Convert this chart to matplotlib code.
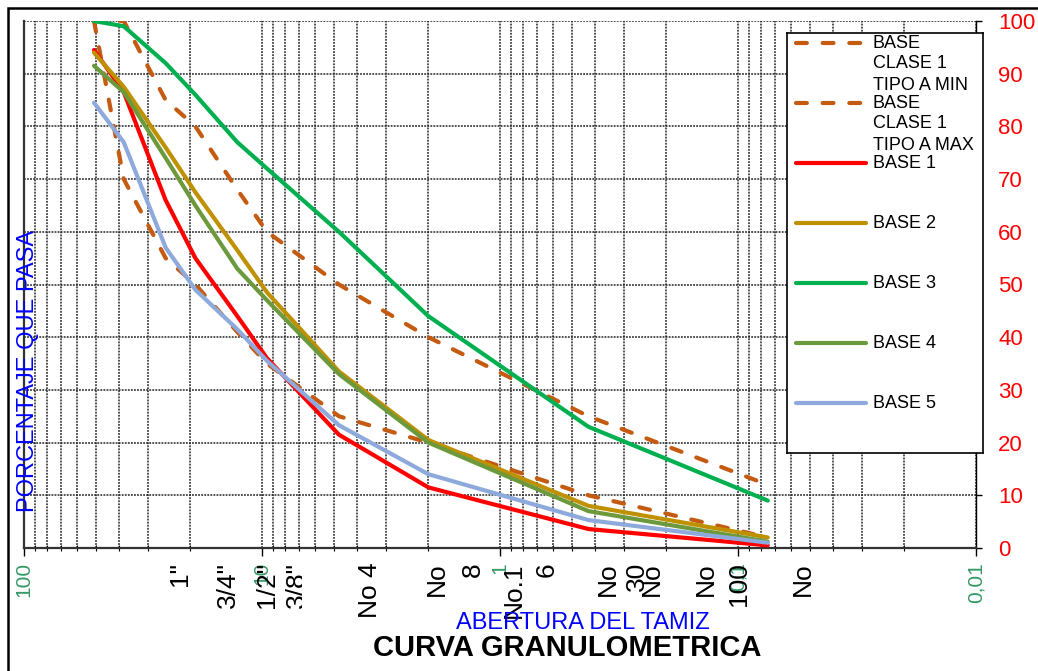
import matplotlib
matplotlib.use('Agg')
import matplotlib.pyplot as plt
import numpy as np
from matplotlib.ticker import LogLocator, NullFormatter
from matplotlib.transforms import Bbox, TransformedBbox
from matplotlib.patches import Rectangle

plt.rcParams['font.family'] = ['Liberation Sans', 'DejaVu Sans']

# ---------------- data ----------------
sieve_names = ['2"', '1 1/2"', '1"', '3/4"', '1/2"', '3/8"', 'No 4', 'No 10', 'No 40', 'No 200']
sieve_mm = [50.8, 38.1, 25.4, 19.05, 12.7, 9.525, 4.75, 2.0, 0.425, 0.075]
spec_min = [100, 70, 55, 50, 41, 35, 25, 20, 10, 2]
spec_max = [100, 100, 85, 80, 68, 60, 50, 40, 25, 12]
base1 = [94.5, 86.5, 66, 55, 44, 36, 21.5, 11.5, 3.6, 0.5]
base2 = [94, 87.5, 76, 67.5, 56.5, 48.5, 33.5, 20.5, 8, 2]
base3 = [100, 99, 92, 86, 77, 72, 60, 44, 23, 9]
base4 = [91.5, 86.5, 74, 65, 53, 47, 33, 20, 7, 1.2]
base5 = [84.5, 77, 57, 49, 41.5, 35.5, 23.3, 14, 5.3, 1.0]

series_labels = ['BASE\nCLASE 1\nTIPO A MIN', 'BASE\nCLASE 1\nTIPO A MAX',
                 'BASE 1', 'BASE 2', 'BASE 3', 'BASE 4', 'BASE 5']
series_values = [spec_min, spec_max, base1, base2, base3, base4, base5]

xtick_values = [100, 10, 1, 0.1, 0.01]
xtick_labels = ['100', '10', '1', '0,1', '0,01']
ytick_values = list(range(0, 101, 10))

# sieve text labels drawn under the axis (as in the original sheet)
sieve_text = ['1"', '3/4"', '1/2"', '3/8"', 'No 4', 'No', '8', 'No.1', '6',
              'No', '30', 'No', 'No', '100', 'No']

# ---------------- styles ----------------
W, H = 1038, 671
colors = ['#C55A11', '#C55A11', '#FF0000', '#BF9000', '#00B050', '#6B993C', '#8EA9DB']
dashed = [True, True, False, False, False, False, False]
sieve_text_px = [180, 228, 267, 297, 370, 437, 473, 514, 547, 608, 637, 652, 706, 739, 803]
dash_pat = (2.6, 3.8)

fig = plt.figure(figsize=(W / 100, H / 100), dpi=100)
ax_l, ax_r, ax_t, ax_b = 24, 976, 21, 548
ax = fig.add_axes([ax_l / W, 1 - ax_b / H, (ax_r - ax_l) / W, (ax_b - ax_t) / H])
ax.set_xscale('log')
ax.set_xlim(100, 0.01)
ax.set_ylim(0, 100)

for vals, col, dsh in zip(series_values, colors, dashed):
    if dsh:
        ax.plot(sieve_mm, vals, color=col, lw=3, dashes=dash_pat,
                dash_capstyle='round', zorder=3)
    else:
        ax.plot(sieve_mm, vals, color=col, lw=3, solid_joinstyle='round',
                solid_capstyle='round', zorder=4)

# x axis
ax.set_xticks(xtick_values)
ax.set_xticklabels(xtick_labels, rotation=90, color='#339966', fontsize=15)
ax.xaxis.set_minor_locator(LogLocator(base=10, subs=np.arange(2, 10)))
ax.xaxis.set_minor_formatter(NullFormatter())
ax.tick_params(axis='x', which='major', direction='out', length=6, width=1, pad=4)
ax.tick_params(axis='x', which='minor', direction='inout', length=5, width=0.8)

# y axis on the right
ax.yaxis.tick_right()
ax.set_yticks(ytick_values)
ax.tick_params(axis='y', which='major', labelcolor='red', labelsize=16,
               direction='out', length=4, pad=12, width=1)

grid_kw = dict(color='#222222', linestyle=(0, (1.2, 0.8)), linewidth=1.1)
ax.grid(True, which='both', axis='x', **grid_kw)
ax.grid(True, which='major', axis='y', **grid_kw)

ax.spines['top'].set_visible(False)
ax.spines['left'].set_color('#333333')
ax.spines['left'].set_linewidth(1.6)
ax.spines['bottom'].set_color('#333333')
ax.spines['bottom'].set_linewidth(1.6)
ax.spines['right'].set_color('black')
ax.spines['right'].set_linewidth(1.0)

# sieve texts
for txt, px in zip(sieve_text, sieve_text_px):
    t = fig.text(px / W, 1 - 562 / H, txt, rotation=90, ha='center', va='top',
                 fontsize=19, color='black')
    if txt == '3/8"':
        t.set_clip_box(TransformedBbox(Bbox([[0, 0], [302 / W, 1]]), fig.transFigure))
        t.set_clip_on(True)

# titles
fig.text(28.5 / W, 1 - 371 / H, 'PORCENTAJE QUE PASA', rotation=90, color='#0000FF',
         fontsize=17, ha='center', va='center')
fig.text(583 / W, 1 - 623 / H, 'ABERTURA DEL TAMIZ', color='#0000FF',
         fontsize=17, ha='center', va='center')
fig.text(567 / W, 1 - 648 / H, 'CURVA GRANULOMETRICA', fontsize=21,
         fontweight='bold', ha='center', va='center')

# legend box (Excel-like layout)
lg_l, lg_r, lg_t, lg_b = 787, 983, 33, 453
lax = fig.add_axes([lg_l / W, 1 - lg_b / H, (lg_r - lg_l) / W, (lg_b - lg_t) / H])
lax.set_xlim(0, lg_r - lg_l)
lax.set_ylim(lg_b - lg_t, 0)
lax.set_xticks([])
lax.set_yticks([])
lax.set_facecolor('white')
for s in lax.spines.values():
    s.set_color('black')
    s.set_linewidth(1.2)
for i, (lab, col, dsh) in enumerate(zip(series_labels, colors, dashed)):
    yy = 10 + 60 * i
    if dsh:
        lax.plot([9, 79], [yy, yy], color=col, lw=3, dashes=dash_pat,
                 dash_capstyle='round')
    else:
        lax.plot([9, 79], [yy, yy], color=col, lw=3, solid_capstyle='round')
    for k, line in enumerate(lab.split('\n')):
        lax.text(86, yy + 21 * k, line, fontsize=13, ha='left', va='center',
                 color='black')

# outer chart frame
fig.add_artist(Rectangle((8 / W, -0.05), 1.2, 1 - 8 / H + 0.05,
                         transform=fig.transFigure, fill=False,
                         edgecolor='black', lw=1.8, clip_on=False))

fig.savefig('out.png', dpi=100)
